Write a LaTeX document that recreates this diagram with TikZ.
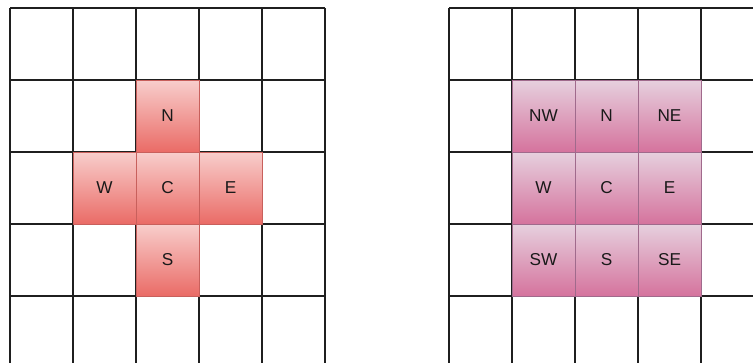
\documentclass[tikz,border=0pt]{standalone}
\usepackage{fontspec}
\setmainfont{Liberation Sans}
\definecolor{redtop}{HTML}{F8CECC}
\definecolor{redbot}{HTML}{EA6B66}
\definecolor{redline}{HTML}{C8605C}
\definecolor{pinktop}{HTML}{E6D0DE}
\definecolor{pinkbot}{HTML}{D5739D}
\definecolor{pinkline}{HTML}{A06A8C}
\begin{document}
\begin{tikzpicture}[x=1pt,y=-1pt,
  gridline/.style={line width=1.3pt, black!88},
  cellbase/.style={rectangle, minimum width=63pt, minimum height=72pt, inner sep=0pt, line width=0.9pt, font=\fontsize{17.2}{20}\selectfont, text=black!90},
  redcell/.style={cellbase, draw=redline, top color=redtop, bottom color=redbot},
  pinkcell/.style={cellbase, draw=pinkline, top color=pinktop, bottom color=pinkbot}]
\useasboundingbox (0,0) rectangle (753,362);
\clip (0,0) rectangle (753,362);
% left grid
\foreach \i in {0,...,5} \draw[gridline] (10+63*\i,8) -- (10+63*\i,372);
\foreach \j in {0,...,5} \draw[gridline] (10,8+72*\j) -- (325,8+72*\j);
% right grid
\foreach \i in {0,...,5} \draw[gridline] (449+63*\i,8) -- (449+63*\i,372);
\foreach \j in {0,...,5} \draw[gridline] (449,8+72*\j) -- (770,8+72*\j);
% left cells (von Neumann)
\node[redcell] (lN) at (167.5,116) {N};
\node[redcell] (lW) at (104.5,188) {W};
\node[redcell] (lC) at (167.5,188) {C};
\node[redcell] (lE) at (230.5,188) {E};
\node[redcell] (lS) at (167.5,260) {S};
% right cells (Moore)
\node[pinkcell] (rNW) at (543.5,116) {NW};
\node[pinkcell] (rN)  at (606.5,116) {N};
\node[pinkcell] (rNE) at (669.5,116) {NE};
\node[pinkcell] (rW)  at (543.5,188) {W};
\node[pinkcell] (rC)  at (606.5,188) {C};
\node[pinkcell] (rE)  at (669.5,188) {E};
\node[pinkcell] (rSW) at (543.5,260) {SW};
\node[pinkcell] (rS)  at (606.5,260) {S};
\node[pinkcell] (rSE) at (669.5,260) {SE};
\end{tikzpicture}
\end{document}
